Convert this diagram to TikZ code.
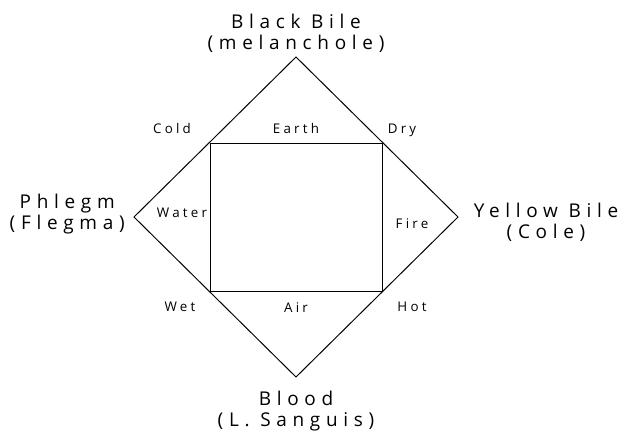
\documentclass[tikz,border=0pt]{standalone}
\usepackage{fontspec}
\newfontfamily\humourfont[LetterSpace=30]{Open Sans}
\newfontfamily\qualityfont[LetterSpace=24]{Open Sans}
\begin{document}
\begin{tikzpicture}[line width=0.7pt,
  humour/.style={align=center,font=\humourfont\fontsize{13.5}{15}\selectfont},
  quality/.style={anchor=base,font=\qualityfont\fontsize{9.5}{11}\selectfont}]
  \useasboundingbox (-7.4,-5.425) rectangle (8.2,5.425);
  % diamond of the four humours
  \coordinate (top) at (0,4);
  \coordinate (right) at (4.05,0);
  \coordinate (bottom) at (0,-4);
  \coordinate (left) at (-4.05,0);
  \draw (top) -- (right) -- (bottom) -- (left) -- cycle;
  % square of the elements
  \coordinate (cold) at (-2.15,1.85);
  \coordinate (dry) at (2.15,1.85);
  \coordinate (hot) at (2.15,-1.85);
  \coordinate (wet) at (-2.15,-1.85);
  \draw (cold) -- (dry) -- (hot) -- (wet) -- cycle;
  % humours
  \node[humour] (blackbile) at (0,4.6) {Black Bile\\(melanchole)};
  \node[humour] (phlegm) at (-5.72,0.08) {Phlegm\\(Flegma)};
  \node[humour] (yellowbile) at (6.25,-0.14) {Yellow Bile\\(Cole)};
  \node[humour] (blood) at (0,-4.85) {Blood\\(L. Sanguis)};
  % qualities and elements
  \node[quality] (coldlabel) at (-3.1,2.1) {Cold};
  \node[quality] (earth) at (0,2.1) {Earth};
  \node[quality] (drylabel) at (2.65,2.1) {Dry};
  \node[quality] (water) at (-2.85,0) {Water};
  \node[quality] (fire) at (2.9,-0.275) {Fire};
  \node[quality] (wetlabel) at (-2.9,-2.35) {Wet};
  \node[quality] (air) at (0,-2.375) {Air};
  \node[quality] (hotlabel) at (2.9,-2.35) {Hot};
\end{tikzpicture}
\end{document}
